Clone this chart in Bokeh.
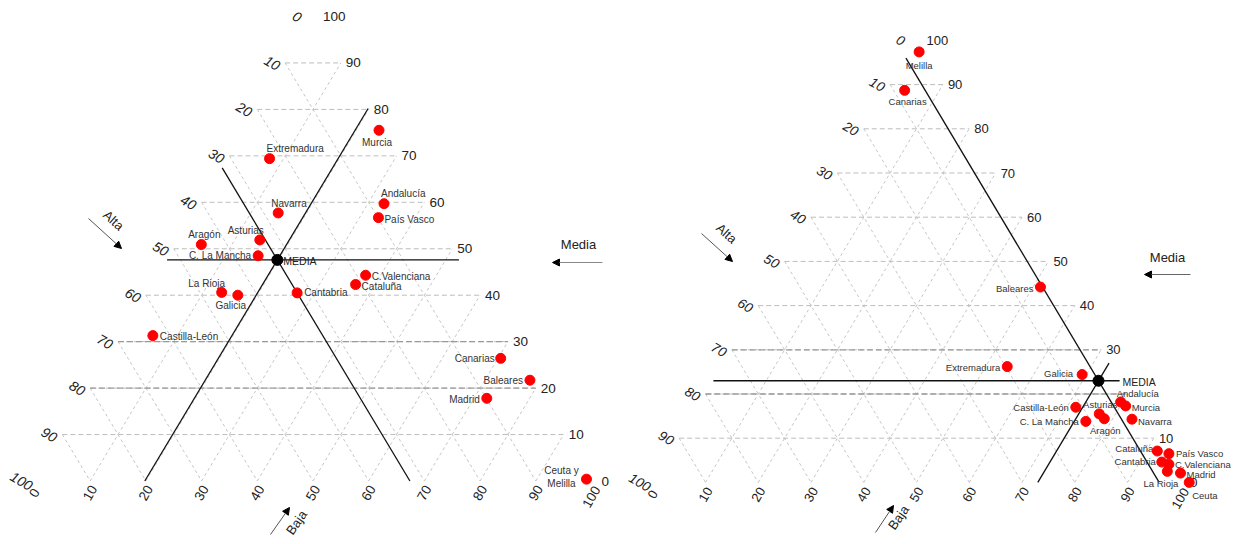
import numpy as np
from bokeh.plotting import figure
from bokeh.models import ColumnDataSource, Range1d, Arrow, NormalHead
from bokeh.layouts import row
from bokeh.embed import file_html
from bokeh.resources import INLINE
from bokeh.core.properties import value

FONT = "Liberation Sans"

# ---------------- data: left diagram ----------------
regions_left = ["Murcia", "Extremadura", "Navarra", "Andalucía", "País Vasco", "Aragón",
                "Asturias", "C. La Mancha", "La Rioja", "Galicia", "Cantabria", "C.Valenciana",
                "Cataluña", "Castilla-León", "Canarias", "Baleares", "Madrid", "Ceuta y\nMelilla"]
alta_left = [0.4, 23.1, 27.4, 7.4, 9.9, 44.6, 33.6, 35.6, 46.1, 43.5, 32.6, 18.4, 21.2, 63.1, 3.1, 0.2, 9.9, 0.7]
media_left = [75.5, 69.4, 57.7, 59.7, 56.7, 50.9, 51.9, 48.5, 40.6, 40.0, 40.5, 44.3, 42.3, 31.3, 26.4, 21.7, 17.8, 0.4]
baja_left = [24.1, 7.5, 14.9, 32.9, 33.4, 4.5, 14.5, 15.9, 13.3, 16.5, 26.9, 37.3, 36.5, 5.6, 70.5, 78.1, 72.3, 98.9]
mean_left = {"Alta": 32.6, "Media": 47.6, "Baja": 19.8}

# ---------------- data: right diagram ----------------
regions_right = ["Melilla", "Canarias", "Baleares", "Extremadura", "Galicia", "Andalucía", "Murcia",
                 "Castilla-León", "Asturias", "Aragón", "Navarra", "C. La Mancha", "Cataluña",
                 "País Vasco", "Cantabria", "C.Valenciana", "La Rioja", "Madrid", "Ceuta"]
alta_right = [0.8, 7.9, 4.4, 19.7, 6.4, 2.2, 1.7, 11.3, 7.6, 7.2, 2.0, 11.0, 0.8, 0.0, 1.2, 0.1, 1.2, 0.0, 0.0]
media_right = [97.4, 88.7, 44.2, 26.2, 24.4, 18.2, 17.3, 17.0, 15.5, 14.4, 14.3, 13.8, 7.1, 6.5, 4.6, 4.1, 2.5, 2.1, 0.0]
baja_right = [1.8, 3.4, 51.4, 54.1, 69.2, 79.6, 81.0, 71.7, 76.9, 78.4, 83.7, 75.2, 92.1, 94.6, 94.2, 95.8, 96.3, 99.0, 101.7]
mean_right = {"Alta": 4.0, "Media": 23.0, "Baja": 73.0}

# ---------------- ticks ----------------
grid_levels = [10, 20, 30, 40, 50, 60, 70, 80, 90]
dark_levels = [20, 30]
tick_values = [0, 10, 20, 30, 40, 50, 60, 70, 80, 90, 100]
media_ticks_right = [0, 10, 30, 40, 50, 60, 70, 80, 90, 100]

# ---------------- label placement (layout only) ----------------
lab_left = [("center", -2, 12), ("left", -3, -10), ("left", -7, -9), ("left", -3, -10),
            ("left", 6, 2), ("center", 3, -10), ("right", 4, -9), ("right", -7, 0),
            ("center", -15, -9), ("center", -7, 10), ("left", 7, 0), ("left", 6, 1),
            ("left", 6, 2), ("left", 7, 1), ("right", -6, 0), ("right", -7, 0),
            ("right", -7, 1), ("center", -25, -2)]
lab_right = [("center", 0, 14), ("center", 3, 11), ("right", -7, 1), ("right", -7, 1),
             ("right", -9, -1), ("left", -4, -8), ("left", 6, 2), ("right", -7, 0),
             ("center", 1, -9), ("center", 1, 12), ("left", 6, 2), ("right", -7, 0),
             ("right", -4, -3), ("left", 7, 0), ("right", -6, -1), ("left", 6, 0),
             ("right", 11, 12), ("left", 6, 1), ("left", 3, 13)]


def make_panel(cfg):
    W, H = 617, 544
    px0, sx, py0, sy = cfg["geom"]

    def to_data(px, py):
        return (px - px0) / sx, (py0 - py) / sy

    p = figure(width=W, height=H, output_backend="svg", toolbar_location=None,
               x_axis_type=None, y_axis_type=None, min_border=0,
               x_range=Range1d(-px0 / sx, (W - px0) / sx),
               y_range=Range1d((py0 - H) / sy, py0 / sy))
    p.grid.visible = False
    p.outline_line_color = None
    p.background_fill_color = "white"
    p.border_fill_color = "white"

    lv = np.array(grid_levels, float)
    hs = ColumnDataSource(dict(x0=lv / 2, x1=100 - lv / 2, y=lv))
    bs = ColumnDataSource(dict(x0=lv, y0=np.zeros_like(lv), x1=lv + (100 - lv) / 2, y1=100 - lv))
    as_ = ColumnDataSource(dict(x0=(100 - lv) / 2, y0=100 - lv, x1=100 - lv, y1=np.zeros_like(lv)))
    p.segment("x0", "y0", "x1", "y1", source=bs, line_color="#c6c6c6", line_width=1, line_dash="3 3")
    p.segment("x0", "y0", "x1", "y1", source=as_, line_color="#c6c6c6", line_width=1, line_dash="3 3")
    p.segment("x0", "y", "x1", "y", source=hs, line_color="#bdbdbd", line_width=1, line_dash="5 3")
    dl = np.array(dark_levels, float)
    p.segment(dl / 2, dl, 100 - dl / 2, dl, line_color="#9a9a9a", line_width=1.3, line_dash="6 3")

    tv = np.array(tick_values, float)
    p.text((100 - tv) / 2, 100 - tv, text=[str(int(v)) for v in tv],
           text_font=value(FONT), text_font_size=value(cfg["alta_size"]), text_font_style="italic",
           text_color="#222222", text_align="center", text_baseline="middle",
           angle=-np.pi / 6, x_offset=[cfg["alta_off"] - (3 if v == 0 else 0) for v in tv])
    mt = np.array(cfg["media_ticks"], float)
    p.text(100 - mt / 2, mt, text=[str(int(v)) for v in mt],
           text_font=value(FONT), text_font_size=value(cfg["tick_size"]),
           text_color="#222222", text_align="left", text_baseline="middle",
           x_offset=[10 if v in (0, 100) else 5 for v in mt])
    p.text(tv, np.zeros_like(tv), text=[str(int(v)) for v in tv],
           text_font=value(FONT), text_font_size=value(cfg["tick_size"]),
           text_color="#222222", text_align="center", text_baseline="middle",
           angle=np.pi / 3, y_offset=[16 if v == 100 else 12 for v in tv])

    a, m, b = cfg["mean"]["Alta"], cfg["mean"]["Media"], cfg["mean"]["Baja"]
    p.segment([m / 2, b, (100 - a) / 2], [m, 0, 100 - a],
              [100 - m / 2, b + (100 - b) / 2, 100 - a], [m, 100 - b, 0],
              line_color="#111111", line_width=1.3)

    baja = np.array(cfg["baja"], float)
    media = np.array(cfg["media"], float)
    src = ColumnDataSource(dict(x=baja + media / 2, y=media, name=cfg["regions"],
                                align=[l[0] for l in cfg["lab"]],
                                dx=[l[1] for l in cfg["lab"]],
                                dy=[l[2] for l in cfg["lab"]]))
    p.text("x", "y", text="name", source=src, text_font=value(FONT),
           text_font_size=value(cfg["lab_size"]), text_color="#333333",
           text_align="align", text_baseline="middle", x_offset="dx", y_offset="dy",
           text_line_height=1.2)
    p.scatter("x", "y", source=src, size=10, fill_color="#ff0000", line_color="#ff0000")

    p.scatter([b + m / 2], [m], size=11, fill_color="black", line_color="black")
    p.text([b + m / 2], [m], text=["MEDIA"], text_font=value(FONT),
           text_font_size=value("10.5px"), text_color="#222222", text_align="left",
           text_baseline="middle", x_offset=cfg["media_lab_dx"], y_offset=1)

    for (txt, tx, ty, ang, ax0, ay0, ax1, ay1, lc) in cfg["titles"]:
        x, y = to_data(tx, ty)
        p.text([x], [y], text=[txt], text_font=value(FONT), text_font_size=value("13px"),
               text_color="#222222", text_align="center", text_baseline="middle",
               angle=np.deg2rad(ang))
        xs, ys = to_data(ax0, ay0)
        xe, ye = to_data(ax1, ay1)
        p.add_layout(Arrow(end=NormalHead(size=7, fill_color="black", line_color="black"),
                           x_start=xs, y_start=ys, x_end=xe, y_end=ye,
                           line_color=lc, line_width=1))
    return p


left_cfg = dict(
    geom=(34.0, 5.57, 480.5, 4.645), tick_size="13.5px", alta_size="14px", alta_off=-13,
    media_ticks=tick_values, mean=mean_left, baja=baja_left, media=media_left,
    regions=regions_left, lab=lab_left, lab_size="10px", media_lab_dx=6,
    titles=[("Alta", 113, 220, -42, 88, 218, 121, 248, "#555555"),
            ("Media", 578, 244, 0, 602, 262, 552, 262, "#888888"),
            ("Baja", 296, 522, 55, 270, 534, 289, 507, "#555555")],
)
right_cfg = dict(
    geom=(35.25, 5.275, 481.9, 4.42), tick_size="13px", alta_size="13.5px", alta_off=-13,
    media_ticks=media_ticks_right, mean=mean_right, baja=baja_right, media=media_right,
    regions=regions_right, lab=lab_right, lab_size="9.5px", media_lab_dx=24,
    titles=[("Alta", 109, 233, -42, 84, 233, 115, 261, "#555555"),
            ("Media", 550, 257, 0, 573, 274, 527, 274, "#666666"),
            ("Baja", 281, 517, 55, 258, 532, 276, 505, "#555555")],
)

layout = row(make_panel(left_cfg), make_panel(right_cfg))
open("out.html", "w").write(file_html(layout, INLINE))
